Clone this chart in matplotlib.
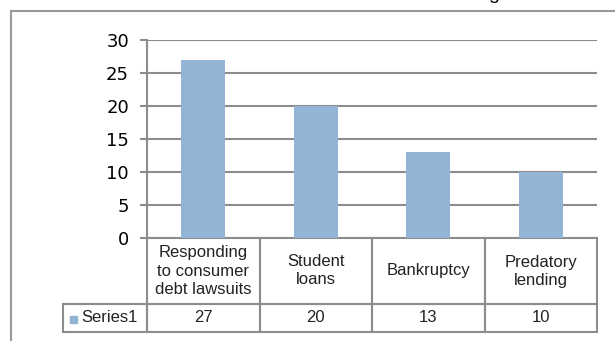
import matplotlib.pyplot as plt
from matplotlib.lines import Line2D
from matplotlib.patches import Rectangle

categories = ["Responding\nto consumer\ndebt lawsuits", "Student\nloans", "Bankruptcy", "Predatory\nlending"]
series_name = "Series1"
values = [27, 20, 13, 10]
yticks = [0, 5, 10, 15, 20, 25, 30]

W, H = 615, 341
fig = plt.figure(figsize=(W / 100, H / 100), dpi=100)

bar_color = "#93b4d4"
grid_color = "#8c8c8c"

# plot area in pixels: x 147..597, y 40..238
ax = fig.add_axes([147 / W, (H - 238) / H, 450 / W, 198 / H])
x = range(len(values))
ax.bar(x, values, 0.39, color=bar_color, zorder=3)
ax.set_xlim(-0.5, len(values) - 0.5)
ax.set_ylim(0, 30)
ax.set_yticks(yticks)
ax.set_xticks([])
ax.yaxis.grid(True, color=grid_color, linewidth=1.5)
ax.set_axisbelow(True)
for s in ["top", "right", "bottom"]:
    ax.spines[s].set_visible(False)
ax.spines["left"].set_color(grid_color)
ax.spines["left"].set_linewidth(1.5)
ax.tick_params(axis="y", length=5, width=1.5, color=grid_color, pad=8,
               labelsize=13)

# data table under the chart (x in data units, y in axes units)
tr = ax.get_xaxis_transform()
px = len(values) / 450  # one pixel in x data units
py = 1 / 198            # one pixel in y axes units
row_h1 = (304 - 238) * py
row_h2 = (332 - 304) * py
lab_w = 84 * px
cell_kw = dict(transform=tr, clip_on=False, fill=False, edgecolor=grid_color, linewidth=1.5)
txt_kw = dict(transform=tr, clip_on=False, ha="center", va="center",
              fontsize=12, family="Liberation Sans", linespacing=1.25, color="#222222")
for i, (cat, v) in enumerate(zip(categories, values)):
    ax.add_patch(Rectangle((i - 0.5, -row_h1), 1, row_h1, **cell_kw))
    ax.add_patch(Rectangle((i - 0.5, -row_h1 - row_h2), 1, row_h2, **cell_kw))
    ax.text(i, -row_h1 / 2, cat, **txt_kw)
    ax.text(i, -row_h1 - row_h2 / 2, str(v), **txt_kw)
ax.add_patch(Rectangle((-0.5 - lab_w, -row_h1 - row_h2), lab_w, row_h2, **cell_kw))
ax.add_patch(Rectangle((-0.5 - lab_w + 7 * px, -row_h1 - row_h2 / 2 - 5 * py),
                       7 * px, 7 * py, transform=tr, clip_on=False, color=bar_color))
ax.text(-0.5 - lab_w + 18 * px, -row_h1 - row_h2 / 2, series_name,
        **{**txt_kw, "ha": "left"})

# outer frame of the cropped slide
fig.add_artist(Line2D([11 / W, 1], [(H - 11) / H, (H - 11) / H], color="#999999", linewidth=1.5))
fig.add_artist(Line2D([11 / W, 11 / W], [0, (H - 11) / H], color="#999999", linewidth=1.5))
# cut-off title descender
fig.text(488 / W, (H + 1) / H, "g", fontsize=14, va="baseline", family="Liberation Sans")

fig.savefig("out.png", dpi=100)
